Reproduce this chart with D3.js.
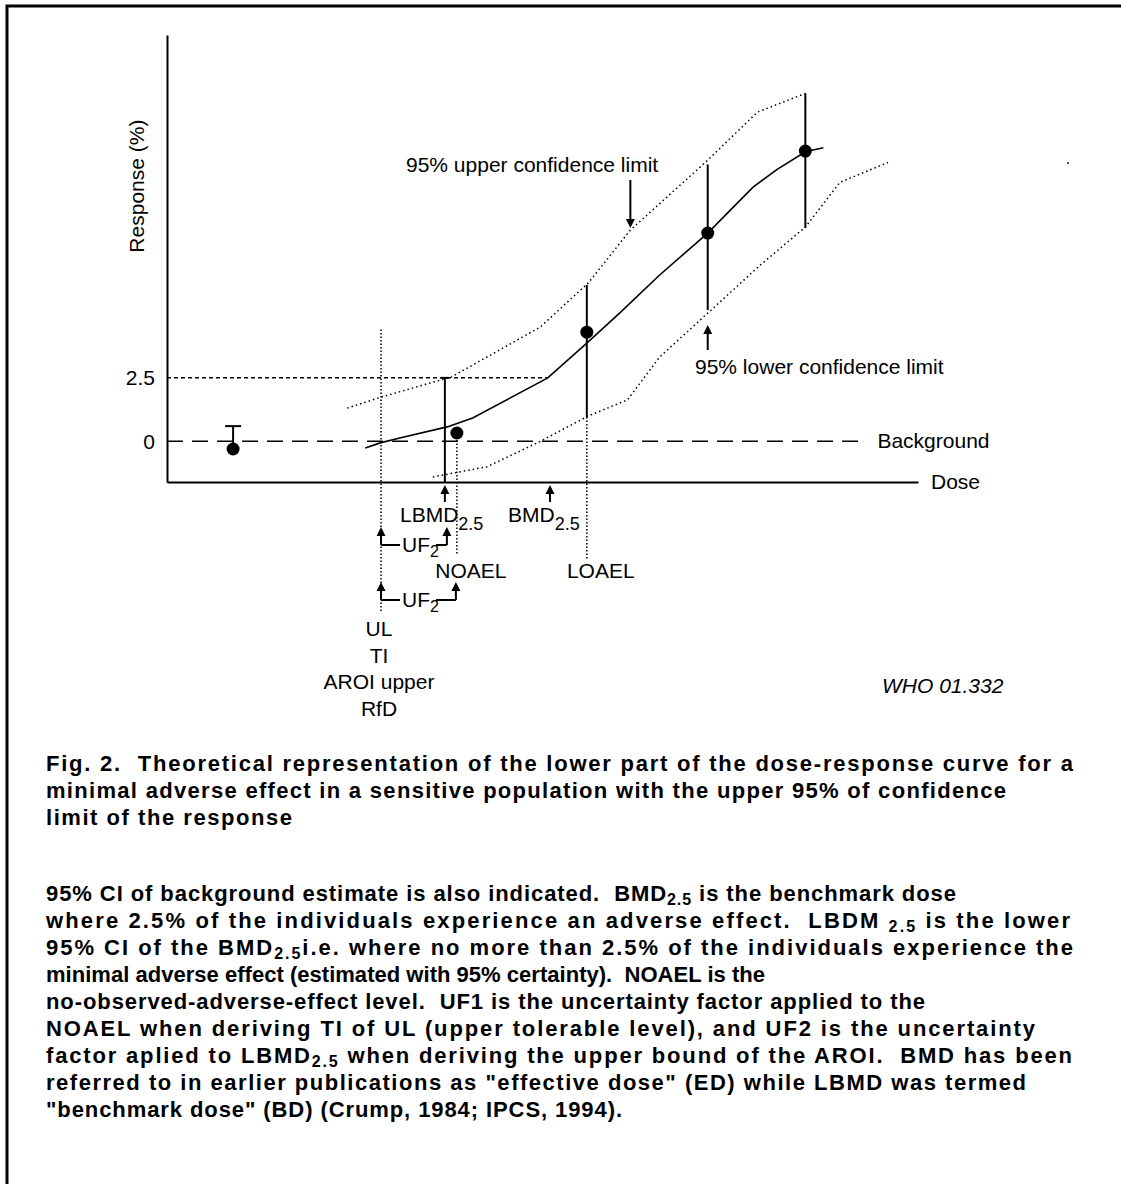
<!DOCTYPE html>
<html>
<head>
<meta charset="utf-8">
<script src="https://cdn.jsdelivr.net/npm/d3@7"></script>
<style>
  body { margin: 0; background: #fff; }
  text { white-space: pre; }
</style>
</head>
<body>
<svg id="chart" width="1121" height="1184"></svg>
<script>
// data (dose in arbitrary units 0-100, response in %)
var fitDose = [26.4, 28.4, 31.0, 37.3, 40.7, 50.7, 55.9, 60.3, 65.6, 72.0, 78.0, 81.2, 85.0, 87.4];
var fitResp = [-0.26, -0.06, 0.13, 0.57, 0.92, 2.5, 3.87, 5.06, 6.55, 8.2, 10.0, 10.7, 11.4, 11.56];

var upperDose = [24.0, 28.6, 37.9, 49.7, 56.1, 61.7, 72.0, 78.6, 85.0];
var upperResp = [1.31, 1.75, 2.54, 4.5, 6.24, 8.32, 11.07, 12.96, 13.7];

var lowerDose = [35.4, 42.6, 49.7, 56.1, 61.3, 65.6, 72.0, 79.0, 85.0, 89.6, 96.0];
var lowerResp = [-1.4, -1.0, 0, 1.0, 1.63, 3.32, 5.05, 6.94, 8.44, 10.2, 10.98];

var obsDose = [8.8, 38.6, 55.9, 72.0, 85.0];
var obsResp = [-0.3, 0.33, 4.3, 8.2, 11.43];
var obsLow = [null, null, 0.96, 5.17, 8.4];
var obsHigh = [0.6, null, 6.16, 10.9, 13.7];

var markerNames = ["UL", "LBMD", "NOAEL", "BMD", "LOAEL"];
var markerDose = [28.5, 37.0, 38.6, 51.0, 55.9];

var yTicks = [0, 2.5];
var yTickLabels = ["0", "2.5"];
var benchmarkResp = 2.5;
var backgroundResp = 0;

var ulLabels = ["UL", "TI", "AROI upper", "RfD"];

var captionTitle = [
	"Fig. 2.  Theoretical representation of the lower part of the dose-response curve for a",
	"minimal adverse effect in a sensitive population with the upper 95% of confidence",
	"limit of the response"
];
var captionTitleEnd = [1073, 1006, 292];

var captionBody = [
	"95% CI of background estimate is also indicated.  BMD_{2.5} is the benchmark dose",
	"where 2.5% of the individuals experience an adverse effect.  LBDM _{2.5} is the lower",
	"95% CI of the BMD_{2.5}i.e. where no more than 2.5% of the individuals experience the",
	"minimal adverse effect (estimated with 95% certainty).  NOAEL is the",
	"no-observed-adverse-effect level.  UF1 is the uncertainty factor applied to the",
	"NOAEL when deriving TI of UL (upper tolerable level), and UF2 is the uncertainty",
	"factor aplied to LBMD_{2.5} when deriving the upper bound of the AROI.  BMD has been",
	"referred to in earlier publications as \"effective dose\" (ED) while LBMD was termed",
	"\"benchmark dose\" (BD) (Crump, 1984; IPCS, 1994)."
];
var captionBodyEnd = [956, 1070, 1073, 765, 925, 1035, 1072, 1026, 622];

function plot() {
	var svg = d3.select("#chart");
	var font = "'Liberation Sans', Arial, sans-serif";

	svg.append("rect").attr("width", 1121).attr("height", 1184).attr("fill", "#fff");

	// frame (top and left only)
	svg.append("path").attr("d", "M7,1184V6H1121").attr("fill", "none")
		.attr("stroke", "#000").attr("stroke-width", 3);

	var x = d3.scaleLinear().domain([0, 100]).range([167, 918]);
	var y = d3.scaleLinear().domain([-1.6, 16]).range([482, 35]);

	var g = svg.append("g").style("font-family", font).style("font-size", "21px");

	// axes
	var yAxis = g.append("g").attr("transform", "translate(" + x(0) + ",0)")
		.call(d3.axisLeft(y).tickValues(yTicks).tickSize(0).tickPadding(12)
			.tickFormat(function(d, i) { return yTickLabels[i]; }));
	yAxis.selectAll("text").style("font-size", "21px").style("font-family", font).attr("fill", "#000");
	yAxis.select(".domain").attr("stroke", "#000").attr("stroke-width", 2);

	var xAxis = g.append("g").attr("transform", "translate(0," + y(-1.6) + ")")
		.call(d3.axisBottom(x).tickValues([]).tickSizeOuter(0));
	xAxis.select(".domain").attr("stroke", "#000").attr("stroke-width", 2);

	g.append("text").attr("transform", "translate(144," + y(10.05) + ") rotate(-90)")
		.attr("text-anchor", "middle").text("Response (%)");
	g.append("text").attr("x", x(100) + 13).attr("y", y(-1.6) + 7).text("Dose");

	// background line
	g.append("line").attr("x1", x(0)).attr("x2", x(93.1))
		.attr("y1", y(backgroundResp)).attr("y2", y(backgroundResp))
		.attr("stroke", "#000").attr("stroke-width", 1.5).attr("stroke-dasharray", "16,9");
	g.append("text").attr("x", x(94.6)).attr("y", y(backgroundResp) + 7).text("Background");

	// 2.5 % benchmark level
	g.append("line").attr("x1", x(0)).attr("x2", x(50.7))
		.attr("y1", y(benchmarkResp)).attr("y2", y(benchmarkResp))
		.attr("stroke", "#000").attr("stroke-width", 1.5).attr("stroke-dasharray", "4,3");

	var line = d3.line().x(function(d) { return x(d[0]); }).y(function(d) { return y(d[1]); });

	// confidence limits
	g.append("path").attr("d", line(d3.zip(upperDose, upperResp))).attr("fill", "none")
		.attr("stroke", "#000").attr("stroke-width", 1.5).attr("stroke-dasharray", "1.5,3");
	g.append("path").attr("d", line(d3.zip(lowerDose, lowerResp))).attr("fill", "none")
		.attr("stroke", "#000").attr("stroke-width", 1.5).attr("stroke-dasharray", "1.5,3");

	// fitted curve
	g.append("path").attr("d", line(d3.zip(fitDose, fitResp))).attr("fill", "none")
		.attr("stroke", "#000").attr("stroke-width", 1.6);

	var axisY = y(-1.6);
	var mx = function(name) { return x(markerDose[markerNames.indexOf(name)]); };

	// vertical reference lines
	g.append("line").attr("x1", mx("UL")).attr("x2", mx("UL")).attr("y1", y(4.4)).attr("y2", axisY + 130)
		.attr("stroke", "#000").attr("stroke-width", 1.5).attr("stroke-dasharray", "1.5,2");
	g.append("line").attr("x1", mx("LBMD")).attr("x2", mx("LBMD")).attr("y1", y(benchmarkResp)).attr("y2", axisY)
		.attr("stroke", "#000").attr("stroke-width", 2);
	g.append("line").attr("x1", mx("LBMD") - 4).attr("x2", mx("LBMD") + 4).attr("y1", y(benchmarkResp)).attr("y2", y(benchmarkResp))
		.attr("stroke", "#000").attr("stroke-width", 2);
	g.append("line").attr("x1", mx("NOAEL")).attr("x2", mx("NOAEL")).attr("y1", y(obsResp[1])).attr("y2", axisY + 73)
		.attr("stroke", "#000").attr("stroke-width", 1.5).attr("stroke-dasharray", "1.5,2");
	g.append("line").attr("x1", mx("LOAEL")).attr("x2", mx("LOAEL")).attr("y1", y(obsLow[2])).attr("y2", axisY + 78)
		.attr("stroke", "#000").attr("stroke-width", 1.5).attr("stroke-dasharray", "1.5,2");

	// observations with error bars
	obsDose.forEach(function(d, i) {
		var lo = obsLow[i] === null ? obsResp[i] : obsLow[i];
		if (obsHigh[i] !== null) {
			g.append("line").attr("x1", x(d)).attr("x2", x(d)).attr("y1", y(lo)).attr("y2", y(obsHigh[i]))
				.attr("stroke", "#000").attr("stroke-width", 2);
		}
		if (obsLow[i] === null && obsHigh[i] !== null) {
			g.append("line").attr("x1", x(d) - 8).attr("x2", x(d) + 8).attr("y1", y(obsHigh[i])).attr("y2", y(obsHigh[i]))
				.attr("stroke", "#000").attr("stroke-width", 2);
		}
	});
	g.selectAll("circle.obs").data(d3.zip(obsDose, obsResp)).enter().append("circle")
		.attr("class", "obs").attr("cx", function(d) { return x(d[0]); }).attr("cy", function(d) { return y(d[1]); })
		.attr("r", 6.5).attr("fill", "#000");

	function upArrow(px, yTip, yTail) {
		g.append("line").attr("x1", px).attr("x2", px).attr("y1", yTip + 6).attr("y2", yTail)
			.attr("stroke", "#000").attr("stroke-width", 2);
		g.append("path").attr("d", "M" + px + "," + yTip + "L" + (px - 4.5) + "," + (yTip + 9) + "L" + (px + 4.5) + "," + (yTip + 9) + "Z")
			.attr("fill", "#000");
	}
	function downArrow(px, yTail, yTip) {
		g.append("line").attr("x1", px).attr("x2", px).attr("y1", yTail).attr("y2", yTip - 6)
			.attr("stroke", "#000").attr("stroke-width", 2);
		g.append("path").attr("d", "M" + px + "," + yTip + "L" + (px - 4.5) + "," + (yTip - 9) + "L" + (px + 4.5) + "," + (yTip - 9) + "Z")
			.attr("fill", "#000");
	}
	function subLabel(px, py, main, sub) {
		var t = g.append("text").attr("x", px).attr("y", py);
		t.append("tspan").text(main);
		t.append("tspan").attr("dy", 8).style("font-size", "18px").text(sub);
		return t;
	}
	function ufBracket(xl, xr, yTip, lineY) {
		upArrow(xl, yTip, lineY);
		upArrow(xr, yTip, lineY);
		g.append("line").attr("x1", xl).attr("x2", xl + 19).attr("y1", lineY).attr("y2", lineY)
			.attr("stroke", "#000").attr("stroke-width", 2);
		g.append("line").attr("x1", xl + 55).attr("x2", xr).attr("y1", lineY).attr("y2", lineY)
			.attr("stroke", "#000").attr("stroke-width", 2);
		var t = g.append("text").attr("x", xl + 21).attr("y", lineY + 7);
		t.append("tspan").text("UF");
		t.append("tspan").attr("dy", 5).style("font-size", "16px").text("2");
	}

	// confidence limit labels
	g.append("text").attr("x", 406).attr("y", 172).text("95% upper confidence limit");
	downArrow(x(61.7), 180, y(8.32) - 2);
	g.append("text").attr("x", 695).attr("y", 374).text("95% lower confidence limit");
	upArrow(x(72.0), y(5.05) + 12, 350);

	// markers below the dose axis
	upArrow(mx("LBMD"), axisY + 3, axisY + 20);
	upArrow(mx("BMD"), axisY + 3, axisY + 20);
	subLabel(400, axisY + 40, "LBMD", "2.5");
	subLabel(508, axisY + 40, "BMD", "2.5");
	ufBracket(mx("UL"), mx("LBMD") + 2, axisY + 45, axisY + 63);
	ufBracket(mx("UL"), mx("NOAEL") - 1, axisY + 100, axisY + 118);
	g.append("text").attr("x", mx("NOAEL") + 14).attr("y", axisY + 96).attr("text-anchor", "middle").text("NOAEL");
	g.append("text").attr("x", mx("LOAEL") + 14).attr("y", axisY + 96).attr("text-anchor", "middle").text("LOAEL");
	g.selectAll("text.ul").data(ulLabels).enter().append("text").attr("class", "ul")
		.attr("x", mx("UL") - 2).attr("y", function(d, i) { return axisY + 154 + i * 26.7; })
		.attr("text-anchor", "middle").text(function(d) { return d; });

	g.append("text").attr("x", 882).attr("y", 693).style("font-style", "italic").text("WHO 01.332");
	g.append("rect").attr("x", 1067).attr("y", 162).attr("width", 2).attr("height", 2).attr("fill", "#555");

	// caption, stretched to the line ends seen in the figure
	var cap = svg.append("g").style("font-family", font).style("font-size", "22px").style("font-weight", "bold");
	var capX = 46;
	function writeLine(str, py, endX) {
		var t = cap.append("text").attr("x", capX).attr("y", py);
		var lowered = false;
		str.split(/(_\{[^}]*\})/).forEach(function(part) {
			if (!part) return;
			var m = part.match(/^_\{(.*)\}$/);
			if (m) {
				t.append("tspan").attr("dy", 4).style("font-size", "16px").text(m[1]);
				lowered = true;
			} else {
				t.append("tspan").attr("dy", lowered ? -4 : 0).text(part);
				lowered = false;
			}
		});
		var natural = t.node().getComputedTextLength();
		var target = endX - capX;
		if (natural < target * 1.03) {
			t.attr("textLength", target).attr("lengthAdjust", "spacing");
		}
	}
	captionTitle.forEach(function(s, i) { writeLine(s, 771 + i * 27, captionTitleEnd[i]); });
	captionBody.forEach(function(s, i) { writeLine(s, 901 + i * 27, captionBodyEnd[i]); });
}
plot();
</script>
</body>
</html>
